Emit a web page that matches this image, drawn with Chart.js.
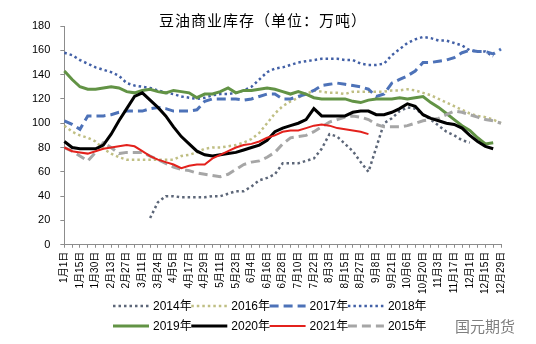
<!DOCTYPE html>
<html>
<head>
<meta charset="utf-8">
<script src="https://cdn.jsdelivr.net/npm/chart.js@4/dist/chart.umd.min.js"></script>
<style>
html, body { margin: 0; padding: 0; background: #fff; }
#wrap { position: relative; width: 536px; height: 344px; }
#mark { position: absolute; left: 455px; top: 315px; font: 15px "Noto Sans CJK SC", sans-serif; color: #7f7f7f; }
</style>
</head>
<body>
<div id="wrap">
  <canvas id="chart" width="536" height="344"></canvas>
  <div id="mark">国元期货</div>
</div>
<script>
const titleText = '豆油商业库存（单位：万吨）';

// tick labels on the x axis (one every other data point)
const dateLabels = ['1月1日', '1月15日', '1月30日', '2月13日', '2月27日', '3月11日', '3月24日', '4月5日',
  '4月17日', '4月29日', '5月11日', '5月23日', '6月4日', '6月16日', '6月28日', '7月10日', '7月22日',
  '8月3日', '8月15日', '8月27日', '9月8日', '9月21日', '10月6日', '10月20日', '11月3日', '11月17日',
  '12月1日', '12月15日', '12月29日'];

// inventory, 10k tonnes
const y2014 = [null, null, null, null, null, null, null, null, null, null, null, 22, 35, 40, 40, 39, 39, 39, 39, 40,
  40, 42, 44, 44, 48, 53, 55, 58, 67, 67, 67, 69, 71, 79, 91, 89, 83, 77, 68, 60, 80, 100, 104, 110, 113, 112,
  107, 103, 98, 93, 90, 86, 84, null, null, null, null];
const y2015 = [80, 77, 73, 69, 76, 84, 80, 75, 76, 76, 76, 73, 70, 67, 64, 62, 61, 59, 58, 57, 56, 58, 62, 66, 68,
  69, 72, 76, 83, 88, 89, 90, 93, 97, 101, 103, 105, 106, 105, 103, 99, 97, 97, 97, 98, 100, 102, 103, 104, 107,
  110, 109, 107, 105, 103, 102, 100];
const y2016 = [98, 93, 90, 88, 85, 79, 75, 72, 70, 70, 70, 70, 70, 70, 70, 73, 74, 76, 79, 80, 80, 81, 82, 84, 87,
  92, 100, 108, 114, 118, 121, 124, 127, 126, 125, 125, 124, 126, 126, 126, 126, 126, 127, 127, 128, 127, 125,
  123, 120, 117, 114, 111, 108, 106, 105, 103, 100];
const y2017 = [102, 99, 95, 106, 106, 106, 107, 109, 110, 110, 110, 112, 113, 112, 110, 110, 110, 111, 118, 120,
  120, 120, 120, 119, 120, 122, 124, 124, 120, 120, 122, 124, 127, 131, 132, 133, 132, 131, 130, 128, 122, 124,
  133, 136, 139, 143, 150, 150, 151, 152, 154, 158, 160, 159, 159, 157, 161];
const y2018 = [158, 156, 152, 149, 146, 144, 142, 139, 133, 131, 130, 129, 127, 125, 124, 122, 121, 120, 121, 123,
  124, 124, 125, 127, 130, 136, 142, 145, 146, 148, 150, 151, 152, 153, 153, 153, 152, 152, 149, 148, 148, 149,
  156, 161, 166, 169, 171, 170, 168, 168, 166, 164, 160, 159, 159, 155, null];
const y2019 = [143, 136, 130, 128, 128, 129, 130, 129, 126, 125, 127, 128, 126, 125, 127, 126, 125, 121, 124, 124,
  126, 129, 125, 127, 127, 128, 129, 128, 126, 124, 126, 124, 121, 120, 120, 120, 120, 118, 117, 119, 120, 120,
  120, 121, 120, 121, 122, 117, 113, 108, 103, 98, 94, 88, 83, 84, null];
const y2020 = [85, 80, 79, 79, 79, 82, 91, 102, 112, 122, 125, 119, 113, 106, 97, 89, 83, 77, 74, 73, 74, 75, 76,
  78, 80, 82, 86, 93, 96, 98, 100, 103, 112, 106, 106, 106, 106, 109, 110, 110, 107, 107, 109, 112, 116, 114, 107,
  104, 102, 100, 99, 96, 90, 85, 81, 79, null];
const y2021 = [80, 77, 76, 75, 77, 79, 80, 81, 82, 81, 77, 73, 70, 68, 66, 63, 65, 66, 66, 71, 74, 77, 80, 82, 83,
  85, 88, 90, 93, 94, 94, 96, 98, 99, 98, 96, 95, 94, 93, 91];

// one category per data point, blank between the dated ones
const categories = [];
dateLabels.forEach((d, i) => {
  categories.push(d);
  if (i < dateLabels.length - 1) categories.push('');
});

Chart.defaults.font.family = '"Liberation Sans", "Noto Sans CJK SC", sans-serif';
Chart.defaults.color = '#000';

const dots = { borderWidth: 2.5, borderDash: [2.5, 3], borderCapStyle: 'butt' };
const dashes = { borderWidth: 3, borderDash: [9, 5], borderCapStyle: 'butt' };

const datasets = [
  { label: '2014年', data: y2014, borderColor: '#5c6678', order: 5, ...dots },
  { label: '2016年', data: y2016, borderColor: '#c0bf84', order: 6, ...dots },
  { label: '2017年', data: y2017, borderColor: '#4d72b8', order: 4, ...dashes },
  { label: '2018年', data: y2018, borderColor: '#4260a6', order: 7, ...dots },
  { label: '2019年', data: y2019, borderColor: '#629345', order: 3, borderWidth: 3 },
  { label: '2020年', data: y2020, borderColor: '#000000', order: 1, borderWidth: 3 },
  { label: '2021年', data: y2021, borderColor: '#e3211c', order: 0, borderWidth: 2 },
  { label: '2015年', data: y2015, borderColor: '#a6a6a6', order: 2, ...dashes }
];

// title inside the top of the plot and a 4-column legend under the axis
const overlay = {
  id: 'overlay',
  afterDraw(chart) {
    const ctx = chart.ctx;
    ctx.save();
    ctx.fillStyle = '#000';
    ctx.textBaseline = 'middle';
    ctx.textAlign = 'center';
    ctx.font = '15px "Noto Sans CJK SC", sans-serif';
    ctx.letterSpacing = '1px';
    ctx.fillText(titleText, 263, 20);
    ctx.letterSpacing = '0px';

    ctx.textAlign = 'left';
    ctx.font = '12px "Liberation Sans", "Noto Sans CJK SC", sans-serif';
    chart.data.datasets.forEach((ds, i) => {
      const x = 113 + (i % 4) * 78.3;
      const y = 306 + Math.floor(i / 4) * 20;
      ctx.beginPath();
      ctx.setLineDash(ds.borderDash || []);
      ctx.lineWidth = ds.borderWidth;
      ctx.strokeStyle = ds.borderColor;
      ctx.moveTo(x, y);
      ctx.lineTo(x + 36, y);
      ctx.stroke();
      ctx.setLineDash([]);
      ctx.fillText(ds.label, x + 40, y + 1);
    });
    ctx.restore();
  }
};

new Chart(document.getElementById('chart'), {
  type: 'line',
  data: { labels: categories, datasets: datasets },
  plugins: [overlay],
  options: {
    responsive: false,
    animation: false,
    layout: { padding: { left: 22, right: 35, top: 26, bottom: 46 } },
    elements: {
      point: { radius: 0 },
      line: { tension: 0, fill: false }
    },
    plugins: {
      title: { display: false },
      legend: { display: false },
      tooltip: { enabled: false }
    },
    scales: {
      x: {
        offset: false,
        border: { color: '#8c8c8c', width: 1 },
        grid: { display: true, drawOnChartArea: false, color: '#8c8c8c', tickLength: 3 },
        ticks: {
          autoSkip: false,
          maxRotation: 90,
          minRotation: 90,
          padding: 4,
          font: { size: 10 },
          callback: function (val, i) { return categories[i]; }
        }
      },
      y: {
        min: 0,
        max: 180,
        border: { color: '#8c8c8c', width: 1 },
        grid: { display: true, drawOnChartArea: false, color: '#8c8c8c', tickLength: 4 },
        ticks: { stepSize: 20, padding: 10, font: { size: 11 } }
      }
    }
  }
});
</script>
</body>
</html>
